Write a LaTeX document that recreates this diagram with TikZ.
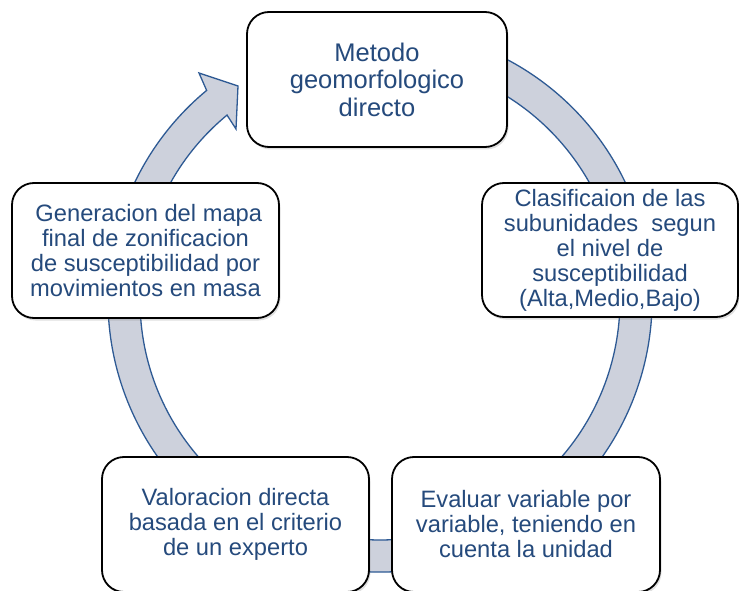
\documentclass[tikz,border=0pt]{standalone}
\usepackage{fontspec}
\setmainfont{Liberation Sans}
\usetikzlibrary{calc,shadows}
\definecolor{txtblue}{RGB}{37,74,124}
\definecolor{ringfill}{RGB}{205,209,220}
\definecolor{ringline}{RGB}{46,90,148}
\tikzset{
  stagebox/.style={draw=black, line width=1.8pt, fill=white, rounded corners=22pt,
    align=center, text=txtblue, inner sep=4pt,
    font=\fontsize{23.7}{25}\selectfont,
    drop shadow={shadow xshift=1.5pt, shadow yshift=-2.5pt, opacity=0.25}},
  ringarrow/.style={fill=ringfill, draw=ringline, line width=1.3pt, line join=miter}
}
\begin{document}
\begin{tikzpicture}[x=1pt,y=1pt]
\useasboundingbox (0,0) rectangle (739,590);
\coordinate (c) at (380,290);
\coordinate (wo) at (199,517);
\coordinate (tip) at (238,504);
\coordinate (wi) at (236,461);
% circular arrow
\draw[ringarrow] ($(c)+(110:272pt)$) arc[start angle=110, end angle=-230.4, radius=272pt]
  -- (wo) -- (tip) -- (wi)
  -- ($(c)+(-230.4:240pt)$) arc[start angle=-230.4, end angle=110, radius=240pt] -- cycle;
% stages
\node[stagebox, minimum width=260pt, minimum height=135pt, font=\fontsize{25.5}{27.5}\selectfont] (top) at (377,510.5) {Metodo\\geomorfologico\\directo};
\node[stagebox, minimum width=256pt, minimum height=134pt] (right) at (610,340) {Clasificaion de las\\subunidades\ \ segun\\el nivel de\\susceptibilidad\\(Alta,Medio,Bajo)};
\node[stagebox, minimum width=268pt, minimum height=135pt] (br) at (526,65.5) {Evaluar variable por\\variable, teniendo en\\cuenta la unidad};
\node[stagebox, minimum width=267pt, minimum height=135pt] (bl) at (235.5,65.5) {Valoracion directa\\basada en el criterio\\de un experto};
\node[stagebox, minimum width=267pt, minimum height=135pt] (left) at (145.5,339.5) {\ Generacion del mapa\\final de zonificacion\\de susceptibilidad por\\movimientos en masa};
\end{tikzpicture}
\end{document}
